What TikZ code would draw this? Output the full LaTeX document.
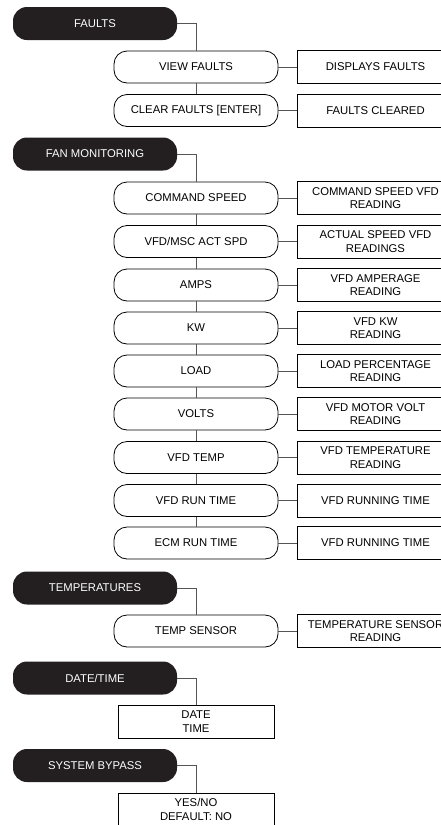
\documentclass[tikz,border=0pt]{standalone}
\usepackage{fontspec}
\setmainfont{Liberation Sans}
\usepackage{tikz}
\usetikzlibrary{positioning}
\definecolor{hdrblack}{HTML}{231F20}
\definecolor{linkgray}{HTML}{555555}
\tikzset{
    header/.style={
        rectangle,
        rounded corners=14pt,
        fill=hdrblack,
        text=white,
        minimum width=164pt,
        minimum height=33pt,
        inner sep=0pt,
        font=\fontsize{11.3}{13.5}\selectfont
    },
    item/.style={
        rectangle,
        rounded corners=13pt,
        draw=black,
        line width=0.8pt,
        minimum width=164pt,
        minimum height=32pt,
        inner sep=0pt,
        font=\fontsize{11.3}{13.5}\selectfont
    },
    result/.style={
        rectangle,
        draw=black,
        line width=0.8pt,
        minimum width=157pt,
        minimum height=33pt,
        inner sep=0pt,
        align=center,
        font=\fontsize{11.3}{13.5}\selectfont
    },
    link/.style={
        draw=linkgray,
        line width=0.9pt
    }
}
\begin{document}
\begin{tikzpicture}[x=1pt, y=-1pt]

\useasboundingbox (0,0) rectangle (441,825);
\clip (0,0) rectangle (441,825);

%---------------- Faults ----------------

\node[header] (faults) at (95,23.5) {FAULTS};

\node[item] (view) at (196,67) {VIEW FAULTS};
\node[item] (clear) at (196,110.5) {CLEAR FAULTS [ENTER]};

\node[result] (viewr) at (375.5,67) {DISPLAYS FAULTS};
\node[result] (clearr) at (375.5,110.5) {FAULTS CLEARED};

\draw[link] (faults.east) -| (view.north);
\draw[link] (view.south) -- (clear.north);
\draw[link] (view.east) -- (viewr.west);
\draw[link] (clear.east) -- (clearr.west);

%---------------- Fan monitoring ----------------

\node[header] (fan) at (95,154) {FAN MONITORING};

\node[item] (cmd) at (196,198) {COMMAND SPEED};
\node[item] (act) at (196,241.5) {VFD/MSC ACT SPD};
\node[item] (amps) at (196,285) {AMPS};
\node[item] (kw) at (196,328) {KW};
\node[item] (load) at (196,371) {LOAD};
\node[item] (volts) at (196,414) {VOLTS};
\node[item] (vtemp) at (196,457.5) {VFD TEMP};
\node[item] (vrun) at (196,500.5) {VFD RUN TIME};
\node[item] (erun) at (196,543) {ECM RUN TIME};

\node[result] (cmdr) at (375.5,198) {COMMAND SPEED VFD\\READING};
\node[result] (actr) at (375.5,241.5) {ACTUAL SPEED VFD\\READINGS};
\node[result] (ampsr) at (375.5,285) {VFD AMPERAGE\\READING};
\node[result] (kwr) at (375.5,328) {VFD KW\\READING};
\node[result] (loadr) at (375.5,371) {LOAD PERCENTAGE\\READING};
\node[result] (voltsr) at (375.5,414) {VFD MOTOR VOLT\\READING};
\node[result] (vtempr) at (375.5,457.5) {VFD TEMPERATURE\\READING};
\node[result] (vrunr) at (375.5,500.5) {VFD RUNNING TIME};
\node[result] (erunr) at (375.5,543) {VFD RUNNING TIME};

\draw[link] (fan.east) -| (cmd.north);
\draw[link] (cmd.south) -- (act.north);
\draw[link] (act.south) -- (amps.north);
\draw[link] (amps.south) -- (kw.north);
\draw[link] (kw.south) -- (load.north);
\draw[link] (load.south) -- (volts.north);
\draw[link] (volts.south) -- (vtemp.north);
\draw[link] (vtemp.south) -- (vrun.north);
\draw[link] (vrun.south) -- (erun.north);

\draw[link] (cmd.east) -- (cmdr.west);
\draw[link] (act.east) -- (actr.west);
\draw[link] (amps.east) -- (ampsr.west);
\draw[link] (kw.east) -- (kwr.west);
\draw[link] (load.east) -- (loadr.west);
\draw[link] (volts.east) -- (voltsr.west);
\draw[link] (vtemp.east) -- (vtempr.west);
\draw[link] (vrun.east) -- (vrunr.west);
\draw[link] (erun.east) -- (erunr.west);

%---------------- Temperatures ----------------

\node[header] (temps) at (95,588) {TEMPERATURES};
\node[item] (sensor) at (196,631) {TEMP SENSOR};
\node[result] (sensorr) at (375.5,631) {TEMPERATURE SENSOR\\READING};

\draw[link] (temps.east) -| (sensor.north);
\draw[link] (sensor.east) -- (sensorr.west);

%---------------- Date/time ----------------

\node[header] (date) at (95,678) {DATE/TIME};
\node[result, minimum width=156pt] (dater) at (196,721.5) {DATE\\TIME};

\draw[link] (date.east) -| (dater.north);

%---------------- System bypass ----------------

\node[header] (bypass) at (95,765.5) {SYSTEM BYPASS};
\node[result, minimum width=156pt] (bypassr) at (196,809.5) {YES/NO\\DEFAULT: NO};

\draw[link] (bypass.east) -| (bypassr.north);

\end{tikzpicture}
\end{document}
